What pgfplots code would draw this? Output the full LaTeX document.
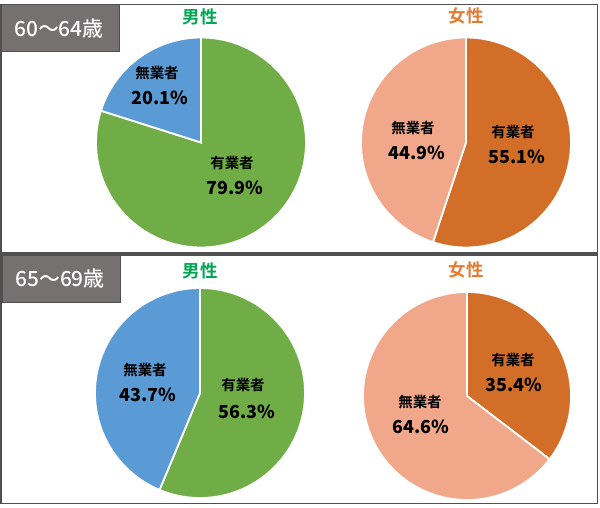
\documentclass[border=0pt]{standalone}
\usepackage{fontspec}
\setmainfont{Noto Sans CJK JP}[BoldFont={Noto Sans CJK JP Bold}]
\newfontfamily\blackfont{Noto Sans CJK JP Black}
\newfontfamily\medfont{Noto Sans CJK JP Medium}
\usepackage{pgfplots}
\pgfplotsset{compat=1.18}
\definecolor{mgreen}{HTML}{70AD47}
\definecolor{mblue}{HTML}{5B9BD5}
\definecolor{fdark}{HTML}{D36E29}
\definecolor{flight}{HTML}{F1A78A}
\definecolor{tgreen}{HTML}{00A651}
\definecolor{torange}{HTML}{E57A32}
\definecolor{boxgray}{HTML}{767171}
\definecolor{framegray}{HTML}{505050}
% #1 cx, #2 cy, #3 r, #4 employed %, #5 employed colour, #6 unemployed colour
\newcommand{\pie}[6]{%
  \pgfmathsetmacro\pieang{3.6*#4}%
  \addplot[fill=#5, draw=white, line width=1.8bp, domain=0:\pieang, samples=120, variable=\t]
    ({#1+#3*sin(\t)},{#2-#3*cos(\t)}) -- (axis cs:#1,#2) -- cycle;
  \addplot[fill=#6, draw=white, line width=1.8bp, domain=\pieang:360, samples=120, variable=\t]
    ({#1+#3*sin(\t)},{#2-#3*cos(\t)}) -- (axis cs:#1,#2) -- cycle;
}
\newcommand{\lab}[3]{\node[font=\bfseries\fontsize{14.5}{16}\selectfont] at (axis cs:#1,#2) {#3};}
\newcommand{\pct}[3]{\node[font=\blackfont\fontsize{18}{20}\selectfont] at (axis cs:#1,#2) {#3};}
\begin{document}
\begin{tikzpicture}
\begin{axis}[
  scale only axis, width=600bp, height=507bp,
  xmin=0, xmax=600, ymin=0, ymax=507, y dir=reverse,
  hide axis, clip=false]
\path[fill=white] (axis cs:0,0) rectangle (axis cs:600,507);
% panel frames
\draw[framegray, line width=1.3bp] (axis cs:1,4.5) rectangle (axis cs:597.5,253);
\draw[framegray, line width=1.3bp] (axis cs:1,255) rectangle (axis cs:597.5,503.5);
% age boxes
\draw[fill=boxgray, draw=framegray, line width=0.8bp] (axis cs:1,4.5) rectangle (axis cs:119,51.5);
\node[text=white, font=\medfont\fontsize{21}{23}\selectfont] at (axis cs:59,28.5) {60～64歳};
\draw[fill=boxgray, draw=framegray, line width=0.8bp] (axis cs:2,255) rectangle (axis cs:120,302);
\node[text=white, font=\medfont\fontsize{21}{23}\selectfont] at (axis cs:60,279) {65～69歳};
% titles
\node[text=tgreen, font=\bfseries\fontsize{17.5}{19}\selectfont] at (axis cs:200,17) {男性};
\node[text=torange, font=\bfseries\fontsize{17.5}{19}\selectfont] at (axis cs:466,16) {女性};
\node[text=tgreen, font=\bfseries\fontsize{17.5}{19}\selectfont] at (axis cs:200,271) {男性};
\node[text=torange, font=\bfseries\fontsize{17.5}{19}\selectfont] at (axis cs:466,270) {女性};
% pies: employed share first, clockwise from 12 o'clock
\pie{201}{142.5}{105}{79.9}{mgreen}{mblue}
\pie{466}{142.5}{105}{55.1}{fdark}{flight}
\pie{200}{393}{105}{56.3}{mgreen}{mblue}
\pie{467}{396}{104}{35.4}{fdark}{flight}
% labels
\lab{157}{73}{無業者}\pct{160}{98}{20.1\%}
\lab{232}{163}{有業者}\pct{235}{188}{79.9\%}
\lab{413}{128}{無業者}\pct{417}{153}{44.9\%}
\lab{513}{132}{有業者}\pct{517}{157}{55.1\%}
\lab{145}{370}{無業者}\pct{148}{395}{43.7\%}
\lab{243}{385}{有業者}\pct{247}{412}{56.3\%}
\lab{513}{360}{有業者}\pct{514}{385}{35.4\%}
\lab{420}{402}{無業者}\pct{421}{427}{64.6\%}
\end{axis}
\end{tikzpicture}
\end{document}
